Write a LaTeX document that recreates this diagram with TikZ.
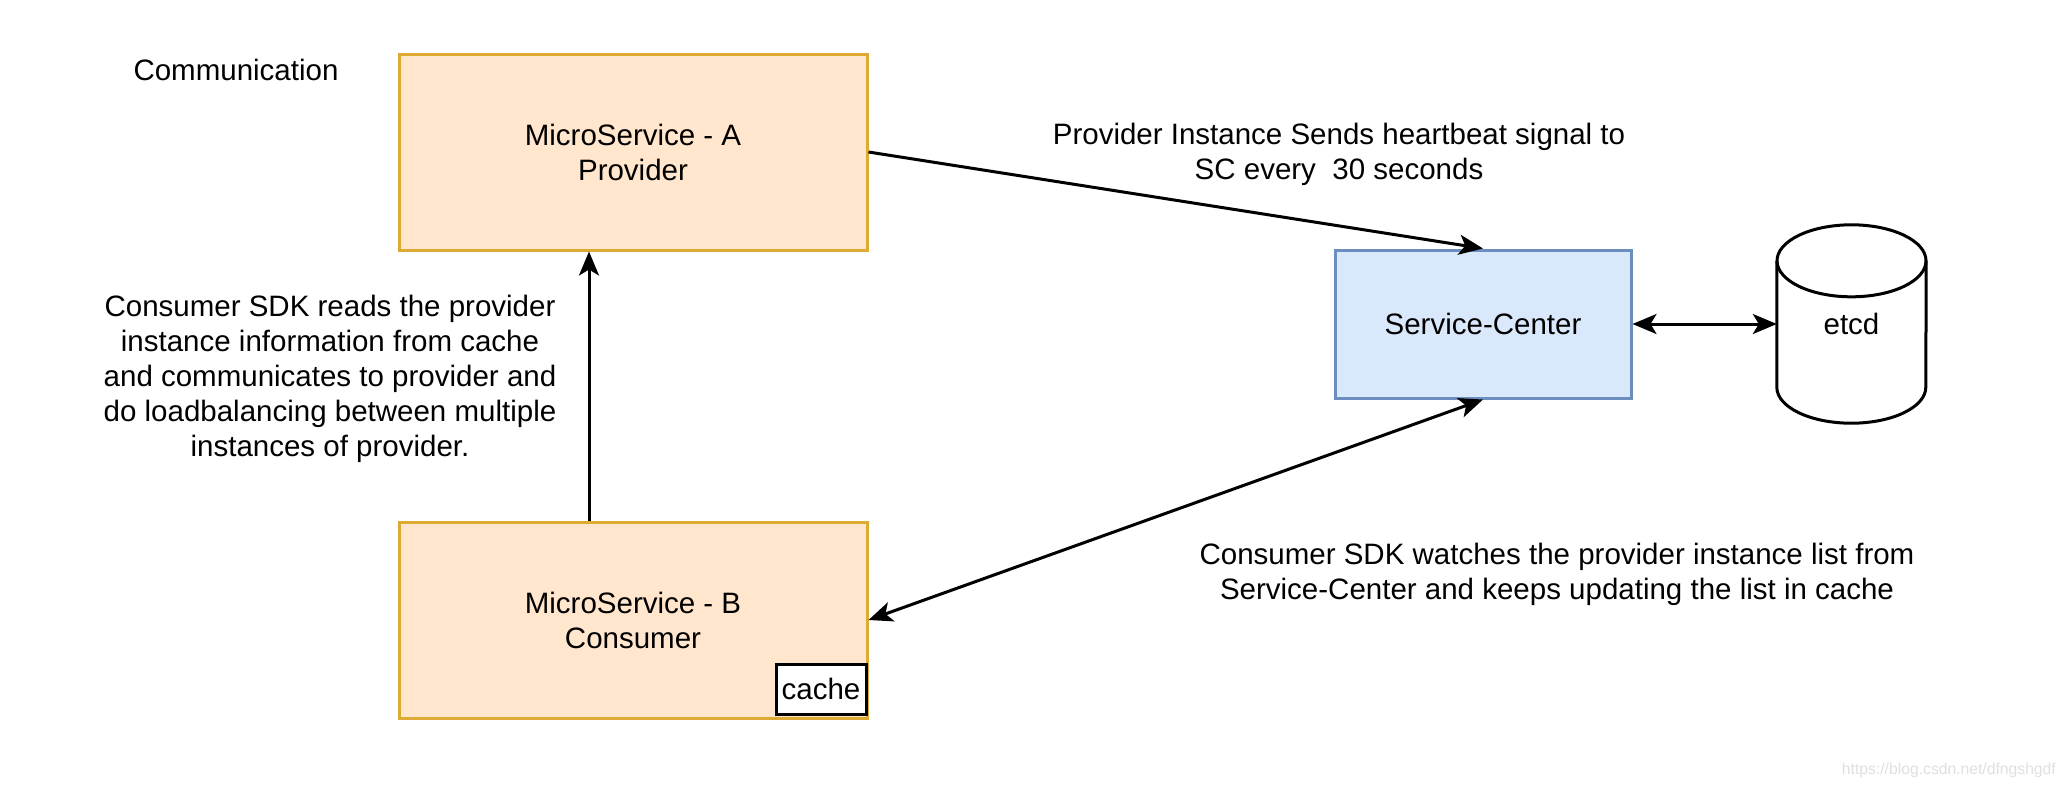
\documentclass[tikz,border=0pt]{standalone}
\usepackage{fontspec}
\setmainfont{Liberation Sans}
\usetikzlibrary{arrows.meta}
\definecolor{msfill}{HTML}{FFE6CC}
\definecolor{msline}{HTML}{DDAA33}
\definecolor{scfill}{HTML}{DAE8FC}
\definecolor{scline}{HTML}{6C8EBF}

\begin{document}
\begin{tikzpicture}[x=1pt,y=-1pt]
    \tikzstyle{every node}=[font=\fontsize{29.5}{35}\selectfont,inner sep=0pt]
    \tikzstyle{service}=[draw=msline,fill=msfill,line width=3pt,minimum width=468pt,minimum height=196pt,align=center]
    \tikzstyle{center}=[draw=scline,fill=scfill,line width=3pt,minimum width=296pt,minimum height=148pt]
    \tikzstyle{store}=[draw,line width=3pt,black]
    \tikzstyle{note}=[align=center]
    \tikzstyle{arr}=[draw,line width=3pt,-{Stealth[length=24pt,width=20pt,inset=6pt]}]
    \tikzstyle{both}=[draw,line width=3pt,{Stealth[length=24pt,width=20pt,inset=6pt]}-{Stealth[length=24pt,width=20pt,inset=6pt]}]
    \useasboundingbox (0,0) rectangle (2066,788);
    \fill[white] (0,0) rectangle (2066,788);

    \node (comm) at (236,70) {Communication};
    \node[service] (A) at (633,152) {MicroService - A\\Provider};
    \node[service] (B) at (633,620) {MicroService - B\\Consumer};
    \node[draw,fill=white,line width=3pt,minimum width=90pt,minimum height=50pt] (cache) at (821,689) {cache};
    \node[center] (SC) at (1483,324) {Service-Center};

    % etcd cylinder
    \node[minimum width=149pt,minimum height=198pt] (etcd) at (1851.5,324) {etcd};
    \draw[store] ([yshift=-36pt]etcd.north) ellipse [x radius=74.5pt,y radius=36pt];
    \draw[store] ([yshift=-36pt]etcd.north west) -- ([yshift=36pt]etcd.south west)
        arc [start angle=180,end angle=360,x radius=74.5pt,y radius=36pt] -- ([yshift=-36pt]etcd.north east);

    \node[note] (beat) at (1339,154) {Provider Instance Sends heartbeat signal to\\SC every~ 30 seconds};
    \node[note] (reads) at (330,379) {Consumer SDK reads the provider\\instance information from cache\\and communicates to provider and\\do loadbalancing between multiple\\instances of provider.};
    \node[note] (watch) at (1557,574) {Consumer SDK watches the provider instance list from\\Service-Center and keeps updating the list in cache};
    \node[text=black!12,font=\fontsize{15.7}{18}\selectfont,anchor=east] (mark) at (2056,770) {https://blog.csdn.net/dfngshgdf};

    \draw[arr] (A.east) -- (SC.north);
    \draw[both] (SC.south) -- (B.east);
    \draw[arr] ([xshift=-44pt]B.north) -- ([xshift=-44pt]A.south);
    \draw[both] (SC.east) -- (etcd.west);
\end{tikzpicture}
\end{document}
